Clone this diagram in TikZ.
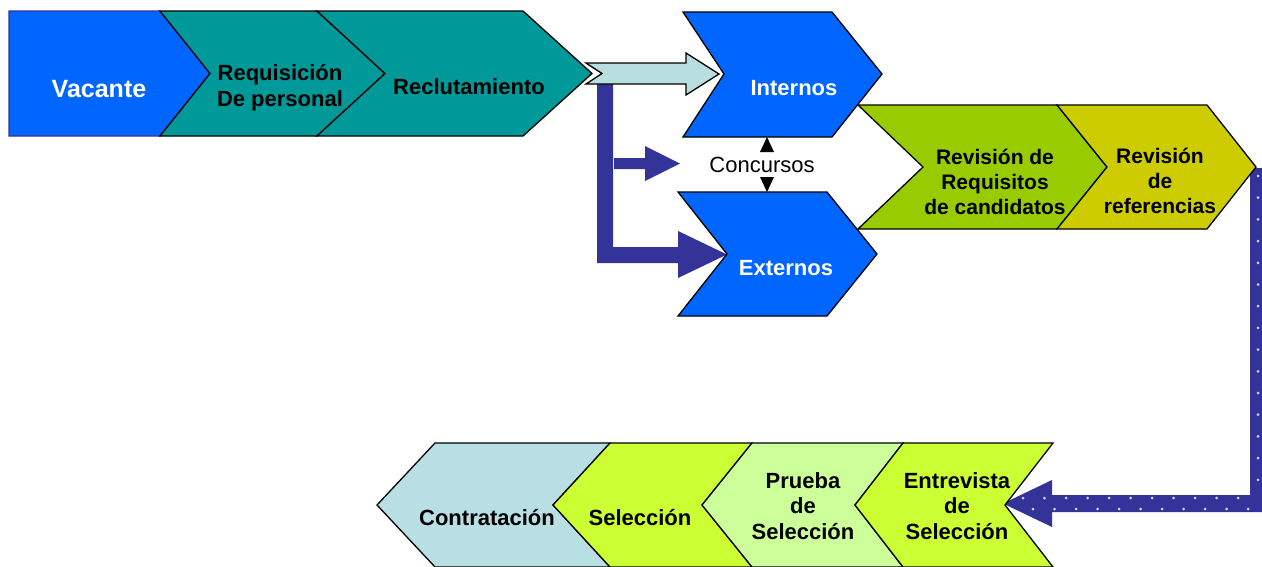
\documentclass[tikz,border=0pt]{standalone}
\usepackage{fontspec}
\setmainfont{Liberation Sans}
\definecolor{vblue}{RGB}{0,102,255}
\definecolor{vteal}{RGB}{0,153,153}
\definecolor{vlcyan}{RGB}{184,222,224}
\definecolor{vnavy}{RGB}{51,51,153}
\definecolor{vgreen}{RGB}{153,204,0}
\definecolor{volive}{RGB}{204,204,0}
\definecolor{vlime}{RGB}{204,255,51}
\definecolor{vpale}{RGB}{204,255,153}
\definecolor{vcontr}{RGB}{184,223,227}
\tikzset{
  shapeline/.style={draw=black, line width=1.3pt, line join=miter},
  lbl/.style={font=\fontsize{22}{25.5}\selectfont\bfseries, align=center, inner sep=0pt},
  wlbl/.style={lbl, text=white},
  rlbl/.style={lbl, font=\fontsize{21}{25}\selectfont\bfseries},
  dotmark/.style={fill=white!80!vnavy},
}
\begin{document}
\begin{tikzpicture}[x=1pt,y=-1pt]
\useasboundingbox (0,0) rectangle (1262,566);
% top row
\draw[fill=vblue, draw=vnavy, line width=1.3pt] (9,11) -- (160,11) -- (210,73.5) -- (160,136) -- (9,136) -- cycle;
\draw[shapeline, fill=vteal] (160,11) -- (317,11) -- (385,73.5) -- (317,136) -- (160,136) -- (210,73.5) -- cycle;
\draw[shapeline, fill=vteal] (317,11) -- (523,11) -- (592,73.5) -- (523,136) -- (317,136) -- (385,73.5) -- cycle;
\node[wlbl, font=\fontsize{25}{28}\selectfont\bfseries] (vac) at (99,89) {Vacante};
\node[lbl] (req) at (280,87.5) {Requisición\\De personal};
\node[lbl] (rec) at (469,87) {Reclutamiento};
% dark L arrow and small arrow
\fill[vnavy] (597,83) -- (613,83) -- (613,247) -- (678,247) -- (678,231) -- (727,254.5) -- (678,278) -- (678,263) -- (597,263) -- cycle;
\fill[vnavy] (614,158) -- (645,158) -- (645,146) -- (680,163.5) -- (645,181) -- (645,169) -- (614,169) -- cycle;
% light arrow
\draw[shapeline, fill=vlcyan] (586,63) -- (686,63) -- (686,53) -- (719,74) -- (686,95) -- (686,84) -- (586,84) -- (602,73.5) -- cycle;
% Internos / Externos
\draw[shapeline, fill=vblue] (683,12) -- (832,12) -- (882,74) -- (832,137) -- (683,137) -- (724,74) -- cycle;
\draw[shapeline, fill=vblue] (678,192) -- (827,192) -- (877,254) -- (827,316) -- (678,316) -- (727,254) -- cycle;
\node[wlbl] (int) at (794,88) {Internos};
\node[wlbl] (ext) at (786,268) {Externos};
\node[font=\fontsize{22}{25}\selectfont, inner sep=0pt] (conc) at (762,165) {Concursos};
\coordinate (intB) at (767,137);
\coordinate (extT) at (767,192);
\fill (intB) -- ++(-7,15) -- ++(14,0) -- cycle;
\fill (extT) -- ++(-7,-15) -- ++(14,0) -- cycle;
% dotted navy arrow
\fill[vnavy] (1250,168) -- (1268,168) -- (1268,512) -- (1052,512) -- (1052,527) -- (1003,503.5) -- (1052,480) -- (1052,495) -- (1250,495) -- cycle;
\foreach \k in {0,...,14} {\fill[dotmark] (1258,{176+21.7*\k}) circle (1.5);}
\foreach \k in {0,...,10} {\fill[dotmark] ({1023+21.5*\k},498) circle (1.5);}
\foreach \k in {0,...,10} {\fill[dotmark] ({1033+21.5*\k},509) circle (1.5);}
% green chevrons
\draw[shapeline, fill=vgreen] (858,105) -- (1057,105) -- (1107,167) -- (1057,229) -- (858,229) -- (923,167) -- cycle;
\draw[shapeline, fill=volive] (1057,105) -- (1207,105) -- (1256,167) -- (1207,229) -- (1057,229) -- (1107,167) -- cycle;
\node[rlbl] (rev1) at (995,182) {Revisión de\\Requisitos\\de candidatos};
\node[rlbl] (rev2) at (1160,181) {Revisión\\de\\referencias};
% bottom row
\draw[shapeline, fill=vcontr] (377,505) -- (435,443) -- (610,443) -- (553,505) -- (610,567) -- (435,567) -- cycle;
\draw[shapeline, fill=vlime] (553,505) -- (610,443) -- (752,443) -- (702,505) -- (752,567) -- (610,567) -- cycle;
\draw[shapeline, fill=vpale] (702,505) -- (752,443) -- (903,443) -- (855,505) -- (903,567) -- (752,567) -- cycle;
\draw[shapeline, fill=vlime] (855,505) -- (903,443) -- (1053,443) -- (1005,505) -- (1053,567) -- (903,567) -- cycle;
\node[lbl] (con) at (487,518) {Contratación};
\node[lbl] (sel) at (640,518) {Selección};
\node[lbl] (pru) at (803,506) {Prueba\\de\\Selección};
\node[lbl] (ent) at (957,506) {Entrevista\\de\\Selección};
\end{tikzpicture}
\end{document}
